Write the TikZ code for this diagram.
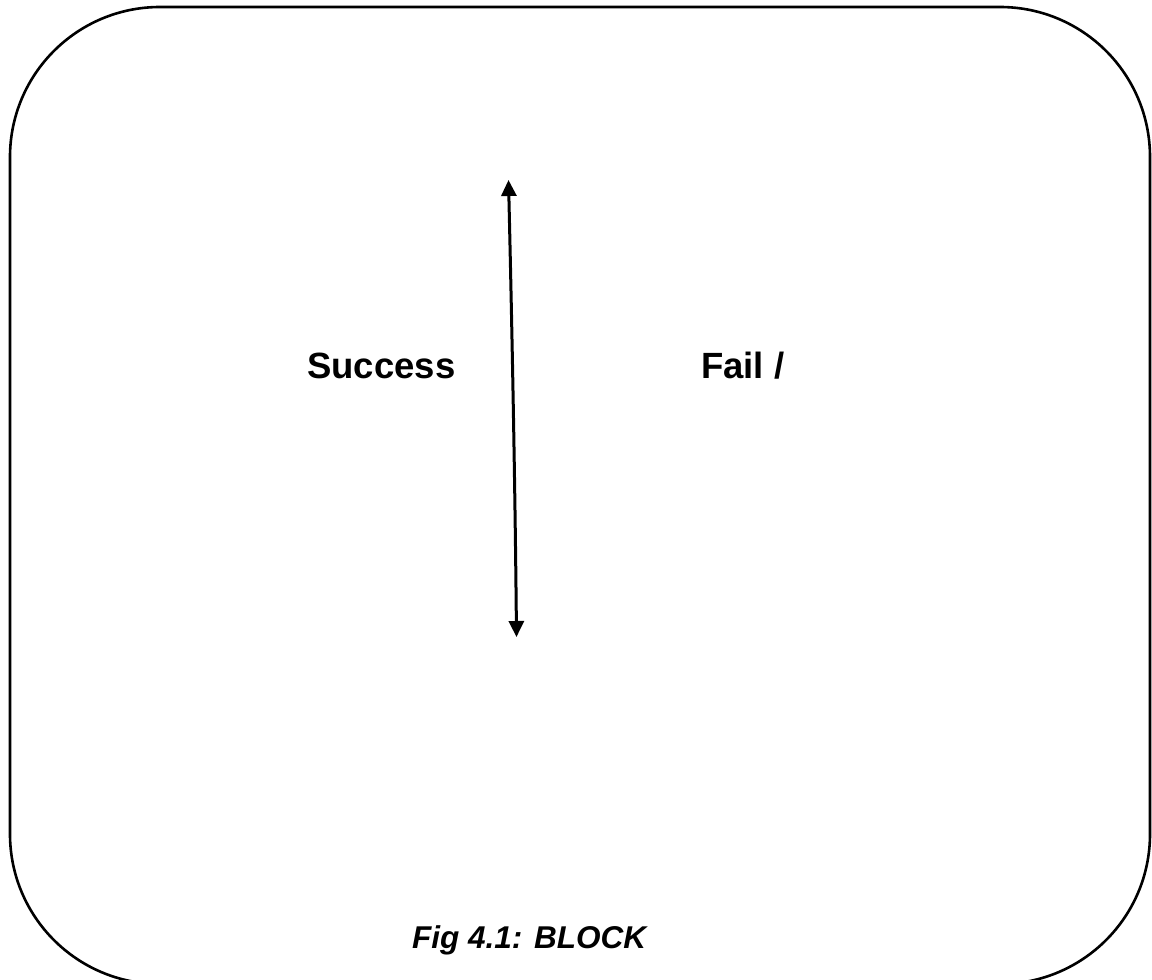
\documentclass[tikz,border=0pt]{standalone}
\usepackage{fontspec}
\setmainfont{Liberation Sans}
\usetikzlibrary{arrows.meta}
\begin{document}
\begin{tikzpicture}[x=1pt,y=-1pt,
  frame/.style={draw=black,line width=2.6pt,rounded corners=150pt},
  lbl/.style={inner sep=0pt,anchor=base west,font=\fontsize{36.5}{44}\selectfont\bfseries},
  figcaption/.style={inner sep=0pt,anchor=base west,font=\fontsize{31.5}{38}\selectfont\bfseries\itshape},
  dbl/.style={line width=3pt,{Triangle[length=16pt,width=15pt]}-{Triangle[length=16pt,width=15pt]}}]
\useasboundingbox (0,0) rectangle (1152,980);
\draw[frame] (10,7) rectangle (1150,984);
\node[lbl] (success) at (307,378.5) {Success};
\node[lbl] (fail) at (701,378.5) {Fail /};
\node[figcaption] (caption) at (412,948.5) {Fig 4.1: BLOCK};
\coordinate (top) at (508.5,180);
\coordinate (bot) at (516.5,637);
\draw[dbl] (bot) .. controls (515,480) and (512,330) .. (top);
\end{tikzpicture}
\end{document}
